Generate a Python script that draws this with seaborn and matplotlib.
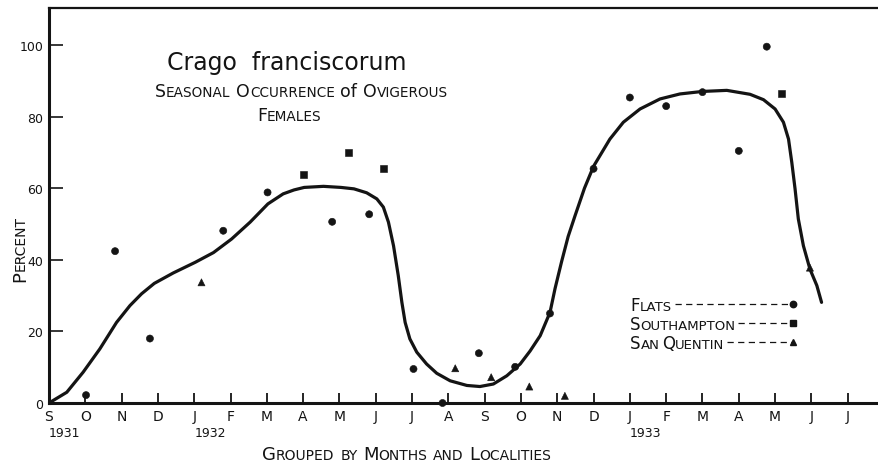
import numpy as np
import pandas as pd
import seaborn as sns
import matplotlib.pyplot as plt
from matplotlib.lines import Line2D

# ---- data -------------------------------------------------------------
# month index: 0 = Sept 1931, 1 = Oct 1931, ...
month_labels = ["S", "O", "N", "D", "J", "F", "M", "A", "M", "J", "J", "A",
                "S", "O", "N", "D", "J", "F", "M", "A", "M", "J", "J", "A"]
year_labels = ["1931", "1932", "1933"]
year_months = [0, 4, 16]

flats_month = [1.02, 1.82, 2.78, 4.80, 6.02, 7.80, 8.82, 10.04, 10.84, 11.84,
               12.84, 13.80, 15.00, 16.00, 17.00, 18.00, 19.00, 19.77]
flats_pct = [2.2, 42.4, 18.0, 48.1, 58.8, 50.6, 52.7, 9.5, 0.0, 13.9,
             10.1, 25.0, 65.4, 85.3, 82.9, 86.8, 70.4, 99.5]

southampton_month = [7.00, 8.24, 9.22, 20.17]
southampton_pct = [63.8, 69.9, 65.6, 86.5]

sanquentin_month = [4.20, 11.19, 12.18, 13.23, 14.21, 20.96]
sanquentin_pct = [33.7, 9.7, 7.2, 4.6, 2.0, 37.8]

# hand-drawn trend curve
curve_month = [0.00, 0.49, 0.94, 1.40, 1.86, 2.23, 2.55, 2.90, 3.42, 4.03,
               4.53, 5.03, 5.54, 6.03, 6.45, 6.75, 7.03, 7.56, 8.04, 8.40,
               8.75, 9.03, 9.21, 9.35, 9.49, 9.62, 9.72, 9.81, 9.94, 10.13,
               10.40, 10.68, 11.05, 11.51, 11.87, 12.24, 12.61, 12.98, 13.25, 13.53,
               13.80, 13.94, 14.12, 14.30, 14.49, 14.75, 15.00, 15.45, 15.82, 16.28,
               16.83, 17.38, 18.00, 18.67, 19.31, 19.68, 20.00, 20.23, 20.37, 20.46,
               20.55, 20.64, 20.78, 20.96, 21.15, 21.28]
curve_pct = [0.0, 3.0, 8.6, 15.1, 22.5, 27.2, 30.5, 33.4, 36.3, 39.3,
             42.0, 45.8, 50.5, 55.6, 58.4, 59.5, 60.2, 60.5, 60.2, 59.8,
             58.7, 57.0, 54.7, 50.5, 43.9, 35.6, 28.1, 22.5, 17.9, 14.2,
             10.9, 8.3, 6.2, 4.9, 4.6, 5.3, 7.6, 10.9, 14.5, 18.8,
             25.3, 32.0, 39.5, 46.5, 52.3, 60.0, 66.1, 73.7, 78.4, 82.1,
             84.9, 86.3, 87.0, 87.3, 86.2, 84.7, 82.1, 78.4, 73.7, 67.2,
             59.8, 51.4, 43.9, 37.4, 32.8, 28.1]

localities = ["Flats", "Southampton", "San Quentin"]
legend_labels = ["Flats", "Southampton", "San Quentin"]
marker_map = {"Flats": "o", "Southampton": "s", "San Quentin": "^"}

points = pd.concat([
    pd.DataFrame({"month": flats_month, "percent": flats_pct, "locality": "Flats"}),
    pd.DataFrame({"month": southampton_month, "percent": southampton_pct, "locality": "Southampton"}),
    pd.DataFrame({"month": sanquentin_month, "percent": sanquentin_pct, "locality": "San Quentin"}),
], ignore_index=True)

# ---- style ------------------------------------------------------------
sns.set_theme(style="white")
plt.rcParams["font.family"] = ["DejaVu Sans"]
ink = "#141414"

fig = plt.figure(figsize=(8.79, 4.64), dpi=100)
ax = fig.add_axes([49 / 879, 60 / 464, 835 / 879, 395 / 464])

sns.lineplot(x=curve_month, y=curve_pct, sort=False, estimator=None,
             color=ink, lw=2.3, ax=ax)
ax.lines[-1].set_solid_joinstyle("round")
ax.lines[-1].set_solid_capstyle("round")
sns.scatterplot(data=points, x="month", y="percent", style="locality",
                markers=marker_map, color=ink, edgecolor=ink, s=26,
                legend=False, clip_on=False, zorder=5, ax=ax)

ax.set_xlim(0, 23)
ax.set_ylim(0, 110.3)
ax.set_xticks(range(len(month_labels)))
ax.set_xticklabels(month_labels)
ax.set_yticks([0, 20, 40, 60, 80, 100])
ax.tick_params(axis="x", direction="in", length=7, width=1.3, pad=4,
               labelsize=10, colors=ink, bottom=True)
ax.tick_params(axis="y", direction="in", length=10, width=1.2, pad=4,
               labelsize=9, colors=ink, left=True)
ax.set_xlabel("")
ax.set_ylabel("")
for side in ("left", "bottom"):
    ax.spines[side].set_linewidth(2.2)
    ax.spines[side].set_color(ink)
ax.spines["top"].set_linewidth(1.6)
ax.spines["top"].set_color(ink)
ax.spines["right"].set_visible(False)

for yr, m in zip(year_labels, year_months):
    ax.text(m, -0.075, yr, transform=ax.get_xaxis_transform(), ha="left",
            va="center", fontsize=9, color=ink)


# ---- small-caps lettering ---------------------------------------------
def sc_pieces(phrase):
    """Split a phrase into (text, size-key, starts_word) pieces in small caps."""
    out = []
    for w in phrase.split():
        if w.startswith("_"):
            out.append((w[1:], "big", True))
        elif w[0].isupper():
            out.append((w[0], "big", True))
            if len(w) > 1:
                out.append((w[1:].upper(), "small", False))
        else:
            out.append((w.upper(), "small", True))
    return out


def draw_caps(x, y, phrase, big, small, rotation=0, gap=0.32):
    sizes = {"big": big, "small": small}
    prev = None
    for text, key, new_word in sc_pieces(phrase):
        fs = sizes[key]
        if prev is None:
            t = fig.text(x, y, text, fontsize=fs, ha="left", va="baseline",
                         rotation=rotation, rotation_mode="anchor", color=ink)
        else:
            off = gap * big if new_word else 0.0
            if rotation == 0:
                t = ax.annotate(text, xy=(1, y), xycoords=(prev, "figure fraction"),
                                xytext=(off, 0), textcoords="offset points",
                                fontsize=fs, ha="left", va="baseline",
                                annotation_clip=False, color=ink)
            else:
                t = ax.annotate(text, xy=(x, 1), xycoords=("figure fraction", prev),
                                xytext=(0, off), textcoords="offset points",
                                fontsize=fs, ha="left", va="baseline",
                                rotation=rotation, rotation_mode="anchor",
                                annotation_clip=False, color=ink)
        prev = t
    return prev


fig.text(287 / 879, 1 - 70 / 464, "Crago  franciscorum", fontsize=17,
         ha="center", va="baseline", color=ink)
draw_caps(155 / 879, 1 - 97 / 464, "Seasonal Occurrence _of Ovigerous", 12.5, 9.8)
draw_caps(257 / 879, 1 - 121 / 464, "Females", 12.5, 9.8)
draw_caps(262 / 879, 1 - 460 / 464, "Grouped by Months and Localities", 13, 10)
draw_caps(25 / 879, 1 - 282 / 464, "Percent", 13, 10, rotation=90)

legend_base = [311, 330, 349]
legend_ends = []
for lab, yb in zip(legend_labels, legend_base):
    legend_ends.append(draw_caps(630 / 879, 1 - yb / 464, lab, 12, 9.5, gap=0.15))

fig.canvas.draw()
inv = fig.transFigure.inverted()
marker_x = 793 / 879
for loc, last, yb in zip(localities, legend_ends, legend_base):
    bb = last.get_window_extent(fig.canvas.get_renderer())
    x0 = inv.transform((bb.x1, bb.y0))[0] + 3 / 879
    ymid = 1 - (yb - 6) / 464
    fig.add_artist(Line2D([x0, marker_x], [ymid, ymid], transform=fig.transFigure,
                          color=ink, lw=0.9, ls=(0, (5, 3.5))))
    fig.add_artist(Line2D([marker_x], [ymid], transform=fig.transFigure,
                          marker=marker_map[loc], color=ink, ms=4.6, ls="none"))

fig.savefig("out.png", dpi=100)
